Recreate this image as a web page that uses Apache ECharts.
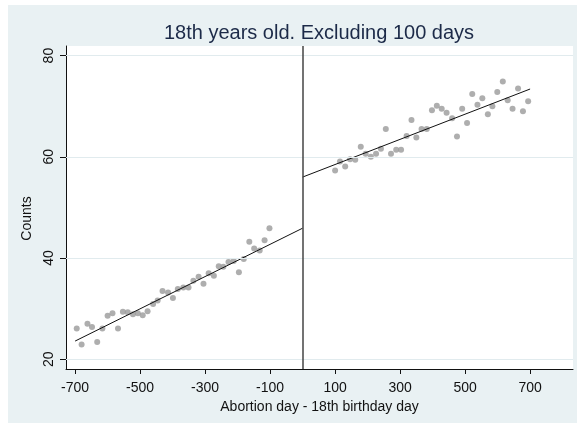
<!DOCTYPE html>
<html>
<head>
<meta charset="utf-8">
<script src="https://cdn.jsdelivr.net/npm/echarts@6/dist/echarts.min.js"></script>
<style>
  html, body { margin: 0; padding: 0; background: #fff; }
  #chart { width: 577px; height: 423px; }
</style>
</head>
<body>
<div id="chart"></div>
<script>
// bins left of the cutoff (days before 18th birthday)
const leftX = [-695, -680, -662, -648, -632, -616, -600, -585, -568, -553, -538, -522, -507,
  -492, -477, -460, -446, -431, -414, -399, -384, -367, -351, -336, -320, -305, -289, -273,
  -258, -244, -228, -212, -196, -181, -164, -149, -132, -117, -102];
const leftY = [26.1, 22.9, 27.0, 26.4, 23.4, 26.1, 28.6, 29.1, 26.1, 29.4, 29.3, 28.9, 29.1,
  28.7, 29.5, 30.9, 31.6, 33.5, 33.2, 32.1, 33.9, 34.2, 34.2, 35.5, 36.3, 34.9, 37.0, 36.5,
  38.4, 38.3, 39.2, 39.4, 37.2, 39.8, 43.2, 41.9, 41.5, 43.5, 45.9];
// bins right of the cutoff
const rightX = [100, 115, 131, 146, 162, 179, 194, 210, 226, 241, 256, 272, 288, 303, 320,
  335, 350, 366, 382, 398, 413, 428, 443, 460, 475, 491, 506, 522, 538, 553, 570, 584, 599,
  616, 631, 646, 663, 678, 694];
const rightY = [57.3, 59.1, 58.1, 59.5, 59.4, 62.0, 60.6, 60.0, 60.6, 61.6, 65.5, 60.6, 61.4,
  61.4, 64.1, 67.3, 63.8, 65.5, 65.5, 69.2, 70.1, 69.5, 68.7, 67.6, 64.0, 69.5, 66.7, 72.4,
  70.3, 71.6, 68.4, 70.0, 72.8, 74.9, 71.2, 69.5, 73.5, 69.0, 71.0];
// fitted lines (endpoints)
const leftFitX = [-700, 0];
const leftFitY = [23.6, 45.9];
const rightFitX = [0, 700];
const rightFitY = [56.0, 73.4];
// ticks
const xTicks = [-700, -500, -300, -100, 100, 300, 500, 700];
const yTicks = [20, 40, 60, 80];

const zip = (a, b) => a.map((v, i) => [v, b[i]]);
const font = 'Liberation Sans, Arial, sans-serif';

const chart = echarts.init(document.getElementById('chart'));
chart.setOption({
  backgroundColor: '#fff',
  animation: false,
  graphic: [{
    type: 'rect',
    z: -100,
    shape: { x: 8, y: 5, width: 569, height: 418 },
    style: { fill: '#e9f1f3' }
  }],
  title: {
    text: '18th years old. Excluding 100 days',
    left: 319,
    top: 23,
    padding: 0,
    textAlign: 'center',
    textStyle: { fontFamily: font, fontSize: 20, fontWeight: 'normal', color: '#1c2a48' }
  },
  grid: {
    show: true,
    backgroundColor: '#fff',
    borderWidth: 0,
    left: 66, top: 46, right: 4, bottom: 54
  },
  xAxis: {
    type: 'value',
    min: -728, max: 832,
    name: 'Abortion day - 18th birthday day',
    nameLocation: 'middle',
    nameGap: 23,
    nameTextStyle: { fontFamily: font, fontSize: 14, color: '#111' },
    axisLine: { onZero: false, lineStyle: { color: '#111', width: 1 } },
    axisTick: { length: 5, customValues: xTicks, lineStyle: { color: '#111' } },
    axisLabel: { customValues: xTicks, margin: 12, fontFamily: font, fontSize: 14, color: '#111' },
    splitLine: { show: false }
  },
  yAxis: {
    type: 'value',
    min: 18.08, max: 81.9,
    name: 'Counts',
    nameLocation: 'middle',
    nameGap: 21,
    nameTextStyle: { fontFamily: font, fontSize: 14, color: '#111', padding: [0, 22, 0, 0] },
    axisLine: { onZero: false, lineStyle: { color: '#111', width: 1 } },
    axisTick: { length: 6, customValues: yTicks, lineStyle: { color: '#111' } },
    axisLabel: { customValues: yTicks, rotate: 90, margin: 10, fontFamily: font, fontSize: 14, color: '#111' },
    splitLine: { show: false }
  },
  series: [
    {
      type: 'line', data: [], z: 1, silent: true,
      markLine: {
        symbol: 'none', silent: true, label: { show: false },
        lineStyle: { color: '#e1ebee', width: 1, type: 'solid' },
        data: yTicks.map(v => ({ yAxis: v }))
      }
    },
    {
      type: 'scatter', z: 3, data: zip(leftX, leftY),
      symbolSize: 6, itemStyle: { color: '#9a9a9a' }
    },
    {
      type: 'scatter', z: 3, data: zip(rightX, rightY),
      symbolSize: 6, itemStyle: { color: '#9a9a9a' }
    },
    {
      type: 'line', z: 4, data: zip(leftFitX, leftFitY), symbol: 'none',
      lineStyle: { color: '#111', width: 1 },
      markLine: {
        symbol: 'none', silent: true, label: { show: false },
        lineStyle: { color: '#444', width: 1.5, type: 'solid' },
        data: [{ xAxis: 0 }]
      }
    },
    {
      type: 'line', z: 4, data: zip(rightFitX, rightFitY), symbol: 'none',
      lineStyle: { color: '#111', width: 1 }
    }
  ]
});
</script>
</body>
</html>
